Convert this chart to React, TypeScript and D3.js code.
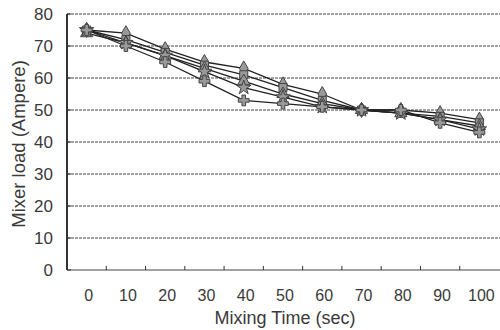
import React from 'react'
import * as d3 from 'd3'

const times = ['0', '10', '20', '30', '40', '50', '60', '70', '80', '90', '100']
const yTicks = [0, 10, 20, 30, 40, 50, 60, 70, 80]

// five mixing runs
const run1 = [75, 74, 69, 65, 63, 58, 55, 50, 50, 49, 47]
const run2 = [75, 72, 68, 64, 61, 57, 53, 50, 49, 48, 46]
const run3 = [74, 71, 67, 63, 59, 55, 52, 50, 49, 47, 45]
const run4 = [75, 71, 67, 62, 57, 54, 51, 50, 49, 47, 44]
const run5 = [75, 70, 65, 59, 53, 52, 51, 50, 50, 46, 43]

const runs = [run1, run2, run3, run4, run5]
const symbols = [d3.symbolDiamond, d3.symbolSquare, d3.symbolTriangle, d3.symbolStar, d3.symbolCross]

const W = 500
const H = 330
const left = 67
const right = 499
const top = 14
const bottom = 270

export default function App() {
  const x = d3.scaleBand<string>().domain(times).range([left, right]).padding(0)
  const y = d3.scaleLinear().domain([0, 80]).range([bottom, top])
  const cx = (t: string) => (x(t) ?? 0) + x.bandwidth() / 2

  const line = d3
    .line<number>()
    .x((_d, i) => cx(times[i]))
    .y(d => y(d))

  const font = "'Liberation Sans', Arial, sans-serif"
  const ink = '#3a3a3a'

  return (
    <svg
      width={W}
      height={H}
      style={{ position: 'absolute', left: 0, top: 0, background: '#fff' }}
    >
      {/* gridlines */}
      {yTicks.map(t => (
        <line
          key={'g' + t}
          x1={left}
          x2={right + 1}
          y1={y(t)}
          y2={y(t)}
          stroke="#444"
          strokeWidth={1}
          strokeDasharray={t === 0 ? undefined : '3 1'}
        />
      ))}
      {/* y axis */}
      <line x1={left} x2={left} y1={top} y2={bottom} stroke="#333" strokeWidth={2} />
      {yTicks.map(t => (
        <g key={'yt' + t}>
          <line x1={left} x2={left + 4} y1={y(t)} y2={y(t)} stroke="#333" />
          <text
            x={53}
            y={y(t)}
            dy="0.36em"
            textAnchor="end"
            fontFamily={font}
            fontSize={17}
            fill={ink}
          >
            {t}
          </text>
        </g>
      ))}
      {/* x axis ticks at category boundaries */}
      {times.slice(1).map(t => (
        <line
          key={'xt' + t}
          x1={x(t)}
          x2={x(t)}
          y1={bottom}
          y2={bottom - 4}
          stroke="#333"
        />
      ))}
      {times.map(t => (
        <text
          key={'xl' + t}
          x={cx(t) + 2}
          y={301}
          textAnchor="middle"
          fontFamily={font}
          fontSize={16}
          fill={ink}
        >
          {t}
        </text>
      ))}
      <text
        x={285}
        y={324}
        textAnchor="middle"
        fontFamily={font}
        fontSize={18}
        fill={ink}
      >
        Mixing Time (sec)
      </text>
      <text
        transform={`translate(25, ${(top + bottom) / 2 + 2}) rotate(-90)`}
        textAnchor="middle"
        fontFamily={font}
        fontSize={18.5}
        fill={ink}
      >
        Mixer load (Ampere)
      </text>

      {/* series */}
      {runs.map((r, i) => (
        <path key={'l' + i} d={line(r) ?? ''} fill="none" stroke="#222" strokeWidth={1.3} />
      ))}
      {runs.map((r, i) =>
        r.map((v, j) => (
          <path
            key={`m${i}-${j}`}
            transform={`translate(${cx(times[j])}, ${y(v)})`}
            d={d3.symbol(symbols[i], 65)() ?? ''}
            fill="#999"
            stroke="#444"
            strokeWidth={1}
          />
        )),
      )}
    </svg>
  )
}
